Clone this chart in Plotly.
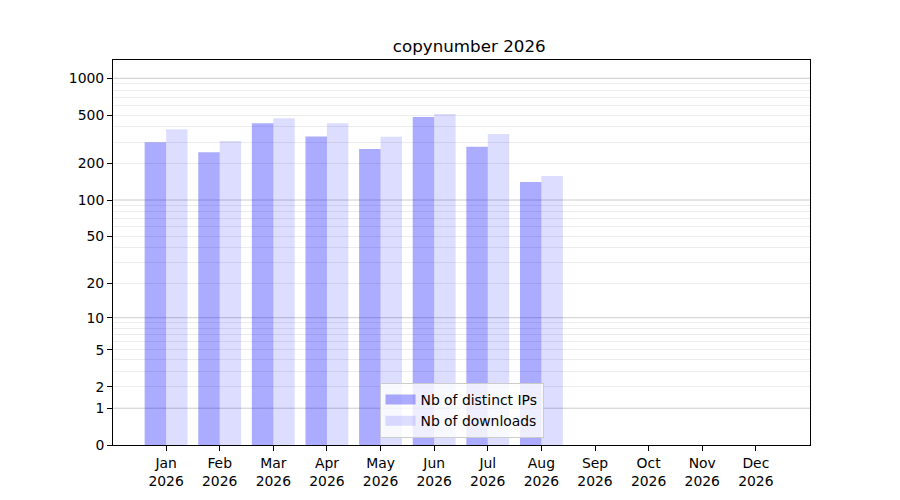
import plotly.graph_objects as go

months = ["Jan", "Feb", "Mar", "Apr", "May", "Jun", "Jul", "Aug", "Sep", "Oct", "Nov", "Dec"]
year = 2026
distinct_ips = [299, 248, 428, 334, 263, 482, 274, 141]
downloads = [383, 306, 471, 428, 331, 510, 350, 158]

y_ticks = [0, 1, 2, 5, 10, 20, 50, 100, 200, 500, 1000]
major_grid = [1, 10, 100, 1000]
minor_grid = [m * d for d in (1, 10, 100) for m in range(2, 10)]

tick_labels = [f"{m}<br>{year}" for m in months]
x_pos = list(range(len(months)))

ip_color = "rgba(0,0,255,0.33)"
dl_color = "rgba(0,0,255,0.135)"

fig = go.Figure()

# y axis is log10(1 + n), so we plot n + 1 on a log axis
fig.add_trace(go.Bar(x=x_pos[:len(distinct_ips)], y=[v + 1 for v in distinct_ips],
                     marker_color=ip_color, marker_line_width=0,
                     width=0.4, offset=-0.4, showlegend=False))
fig.add_trace(go.Bar(x=x_pos[:len(downloads)], y=[v + 1 for v in downloads],
                     marker_color=dl_color, marker_line_width=0,
                     width=0.4, offset=0, showlegend=False))

# legend entries drawn as wide patches like matplotlib's
fig.add_trace(go.Scatter(x=[None], y=[None], mode="lines", name="Nb of distinct IPs",
                         line=dict(color=ip_color, width=10)))
fig.add_trace(go.Scatter(x=[None], y=[None], mode="lines", name="Nb of downloads",
                         line=dict(color=dl_color, width=10)))

for g in major_grid:
    fig.add_hline(y=g + 1, line_color="rgba(128,128,128,0.42)", line_width=1, layer="below")

# the page puts the figure 8px down/right, margins compensate
fig.update_layout(
    width=900, height=500,
    margin=dict(l=105, r=98, t=52, b=63),
    paper_bgcolor="white", plot_bgcolor="white",
    font=dict(family="DejaVu Sans", size=13.9, color="black"),
    title=dict(text="copynumber 2026", x=0.5125, xanchor="center", y=0.924, yanchor="middle",
               font=dict(size=16.7)),
    barmode="overlay",
    showlegend=True,
    legend=dict(x=0.5, xanchor="center", y=0.018, yanchor="bottom",
                bgcolor="rgba(255,255,255,0.8)", bordercolor="#cccccc", borderwidth=1,
                font=dict(size=13.9), tracegroupgap=0),
)

fig.update_xaxes(
    range=[-0.99, 12.01], tickmode="array", tickvals=x_pos, ticktext=tick_labels,
    showgrid=False, zeroline=False, ticks="outside", ticklen=5, tickcolor="black",
    showline=True, linecolor="black", linewidth=1, mirror=True,
)
fig.update_yaxes(
    type="log", range=[0, 3.15],
    tickmode="array", tickvals=[t + 1 for t in y_ticks], ticktext=[str(t) for t in y_ticks],
    showgrid=False, zeroline=False, ticks="outside", ticklen=5, tickcolor="black",
    showline=True, linecolor="black", linewidth=1, mirror=True,
    minor=dict(tickmode="array", tickvals=[m + 1 for m in minor_grid], showgrid=True,
               gridcolor="rgba(128,128,128,0.15)", gridwidth=1, ticks=""),
)

fig.write_html("out.html")
